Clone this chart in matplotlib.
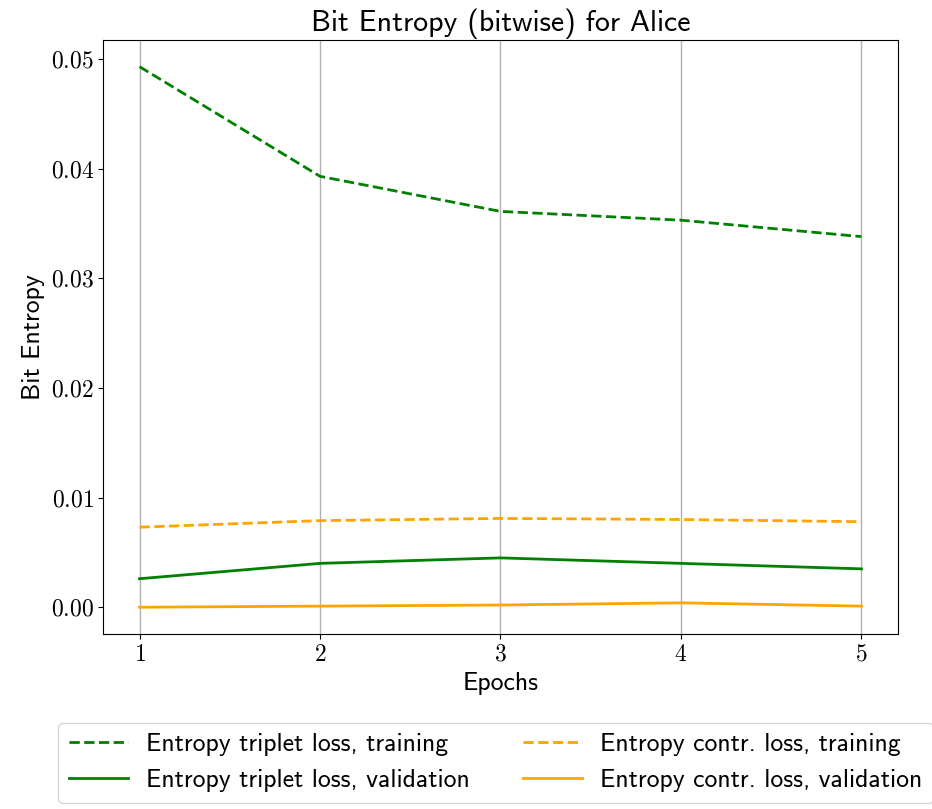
import matplotlib
matplotlib.use("Agg")
import matplotlib.pyplot as plt
from matplotlib.ticker import FuncFormatter

plt.rcParams['font.family'] = ['cmss10', 'DejaVu Sans']
plt.rcParams['mathtext.fontset'] = 'cm'
plt.rcParams['axes.unicode_minus'] = False

# Entropy per epoch
epochs = [1, 2, 3, 4, 5]
triplet_train = [0.0493, 0.0393, 0.0361, 0.0353, 0.0338]
triplet_val = [0.0026, 0.0040, 0.0045, 0.0040, 0.0035]
contr_train = [0.0073, 0.0079, 0.0081, 0.0080, 0.0078]
contr_val = [0.0000, 0.0001, 0.0002, 0.0004, 0.0001]

fig = plt.figure(figsize=(9.32, 8.09), dpi=100)
ax = fig.add_axes([0.111, 0.216, 0.852, 0.735])

ax.plot(epochs, triplet_train, '--', color='green', lw=2, label='Entropy triplet loss, training')
ax.plot(epochs, triplet_val, '-', color='green', lw=2, label='Entropy triplet loss, validation')
ax.plot(epochs, contr_train, '--', color='orange', lw=2, label='Entropy contr. loss, training')
ax.plot(epochs, contr_val, '-', color='orange', lw=2, label='Entropy contr. loss, validation')

ax.set_xticks(epochs)
ax.xaxis.grid(True, color='#b0b0b0', lw=1)
ax.yaxis.set_major_formatter(FuncFormatter(lambda v, p: r'$%.2f$' % v))
ax.xaxis.set_major_formatter(FuncFormatter(lambda v, p: r'$%d$' % v))
ax.tick_params(labelsize=17)

ax.set_title('Bit Entropy (bitwise) for Alice', fontsize=21.5)
ax.set_xlabel('Epochs', fontsize=18.5)
ax.set_ylabel('Bit Entropy', fontsize=18.5)

# legend sits under the axes in two columns
ax.legend(loc='upper left', bbox_to_anchor=(-0.073, -0.128), ncol=2, fontsize=18.5,
          handlelength=2.3, handletextpad=0.7, columnspacing=2.1, edgecolor='#cccccc')

fig.savefig('out.png', dpi=100)
